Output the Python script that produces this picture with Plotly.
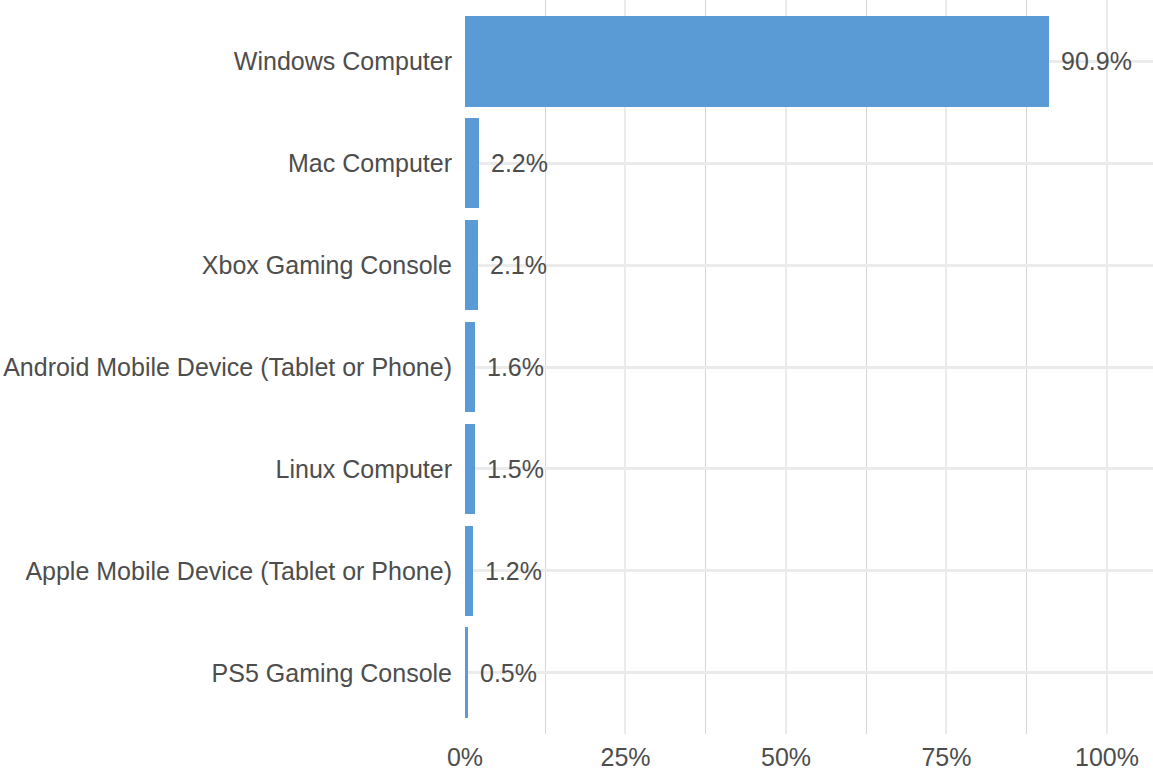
import plotly.graph_objects as go

categories = [
    "Windows Computer",
    "Mac Computer",
    "Xbox Gaming Console",
    "Android Mobile Device (Tablet or Phone)",
    "Linux Computer",
    "Apple Mobile Device (Tablet or Phone)",
    "PS5 Gaming Console",
]
values = [90.9, 2.2, 2.1, 1.6, 1.5, 1.2, 0.5]
labels = ["90.9%", "2.2%", "2.1%", "1.6%", "1.5%", "1.2%", "0.5%"]
x_ticks = [0, 25, 50, 75, 100]
x_tick_labels = ["0%", "25%", "50%", "75%", "100%"]

FONT = "Liberation Sans, Arial, Helvetica, sans-serif"
TEXT = "#4d4d4d"

fig = go.Figure()
fig.add_trace(go.Bar(
    x=values,
    y=categories,
    orientation="h",
    marker=dict(color="#5b9bd5", line=dict(width=0)),
    width=0.89,
    hoverinfo="skip",
))

for c, v, t in zip(categories, values, labels):
    fig.add_annotation(
        x=v, y=c, text=t, showarrow=False,
        xanchor="left", yanchor="middle", xshift=10,
        font=dict(family=FONT, size=25, color=TEXT),
    )

fig.update_layout(
    width=1153, height=773,
    margin=dict(l=465, r=0, t=0, b=39),
    paper_bgcolor="white",
    plot_bgcolor="white",
    showlegend=False,
    font=dict(family=FONT, size=25, color=TEXT),
    bargap=0,
)

fig.update_xaxes(
    range=[0, 107.17],
    tickvals=x_ticks,
    ticktext=x_tick_labels,
    showgrid=True,
    gridcolor="#ebebeb",
    gridwidth=2,
    zeroline=False,
    showline=False,
    ticks="",
    ticklabelstandoff=6,
    tickfont=dict(family=FONT, size=25, color=TEXT),
    minor=dict(tick0=12.5, dtick=25, showgrid=True, gridcolor="#d6d6d6", gridwidth=1),
    fixedrange=True,
)

fig.update_yaxes(
    categoryorder="array",
    categoryarray=categories,
    range=[6.6, -0.6],
    showgrid=True,
    gridcolor="#ebebeb",
    gridwidth=3,
    zeroline=False,
    showline=False,
    ticks="",
    ticklabelstandoff=12,
    tickfont=dict(family=FONT, size=25, color=TEXT),
    fixedrange=True,
)

fig.write_html(
    "out.html",
    config={"displayModeBar": False},
    post_script="document.body.style.margin='0';document.body.style.overflow='hidden';",
)
